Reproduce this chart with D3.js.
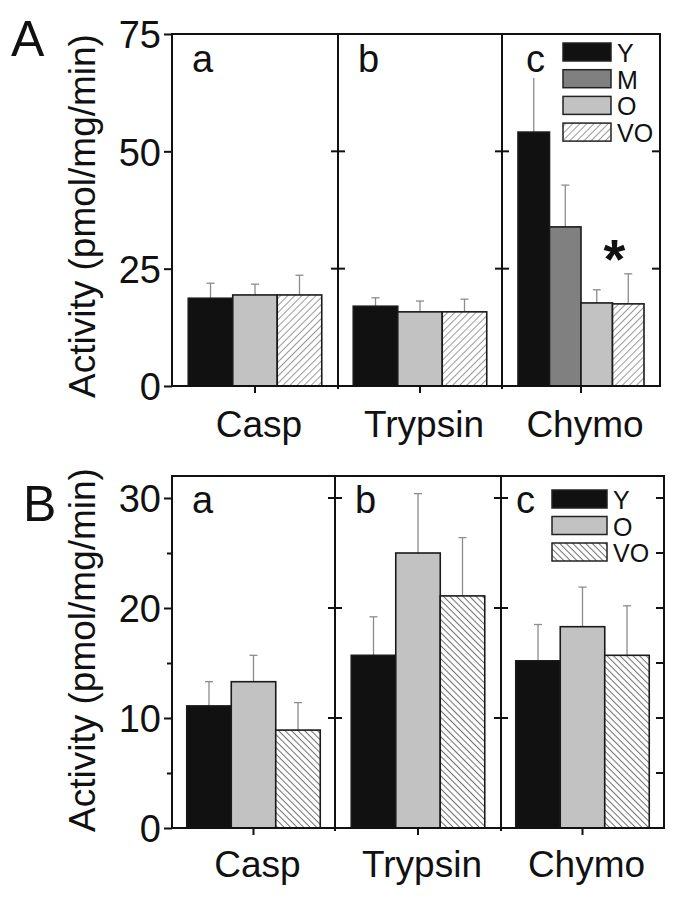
<!DOCTYPE html>
<html>
<head>
<meta charset="utf-8">
<script src="https://cdn.jsdelivr.net/npm/d3@7"></script>
<style>
  body { margin: 0; background: #fff; }
  svg text { font-family: "Liberation Sans", Arial, sans-serif; fill: #111; }
</style>
</head>
<body>
<svg id="chart" width="680" height="902"></svg>
<script>
// ---- data ----
var categories = ["Casp", "Trypsin", "Chymo"];
var panelLetters = ["a", "b", "c"];

// panel A
var groupsA = [["Y", "O", "VO"], ["Y", "O", "VO"], ["Y", "M", "O", "VO"]];
var meanA = [[18.7, 19.4, 19.4], [17.0, 15.8, 15.8], [54.1, 33.9, 17.7, 17.5]];
var sdA = [[3.2, 2.3, 4.2], [1.8, 2.3, 2.7], [13.0, 8.9, 2.8, 6.4]];
var legendA = ["Y", "M", "O", "VO"];
var ticksA = [0, 25, 50, 75];

// panel B
var groupsB = [["Y", "O", "VO"], ["Y", "O", "VO"], ["Y", "O", "VO"]];
var meanB = [[11.1, 13.3, 8.9], [15.7, 25.0, 21.1], [15.2, 18.3, 15.7]];
var sdB = [[2.2, 2.4, 2.5], [3.5, 5.4, 5.3], [3.3, 3.6, 4.5]];
var legendB = ["Y", "O", "VO"];
var ticksB = [0, 10, 20, 30];
var minorB = [5, 15, 25];

var svg = d3.select("#chart");
var defs = svg.append("defs");

function hatch(id, angle, spacing, color) {
    var p = defs.append("pattern")
        .attr("id", id)
        .attr("patternUnits", "userSpaceOnUse")
        .attr("width", spacing).attr("height", spacing)
        .attr("patternTransform", "rotate(" + angle + ")");
    p.append("rect").attr("width", spacing).attr("height", spacing).attr("fill", "#fff");
    p.append("line")
        .attr("x1", spacing / 2).attr("y1", 0)
        .attr("x2", spacing / 2).attr("y2", spacing)
        .attr("stroke", color).attr("stroke-width", 1);
}
hatch("hatchA", 45, 5, "#9a9a9a");
hatch("hatchB", -45, 4.6, "#6e6e6e");

function fills(hatchId) {
    return d3.scaleOrdinal()
        .domain(["Y", "M", "O", "VO"])
        .range(["#111", "#808080", "#c2c2c2", "url(#" + hatchId + ")"]);
}

/*==================================================================
                         Panel drawing
==================================================================*/
function drawPanel(opt) {
    var g = svg.append("g");
    var y = d3.scaleLinear().domain(opt.domain).range([opt.bottom, opt.top]);
    var edges = opt.edges;
    var color = fills(opt.hatch);
    var centers = d3.scaleOrdinal().domain(categories)
        .range(categories.map(function(c, i) { return (edges[i] + edges[i + 1]) / 2; }));

    // bars + error bars
    categories.forEach(function(cat, i) {
        var grp = opt.groups[i];
        var bw = grp.length === 4 ? 31.5 : 44.5;
        var cx = centers(cat);
        var x = d3.scaleBand().domain(grp)
            .range([cx - bw * grp.length / 2, cx + bw * grp.length / 2]);
        var rows = grp.map(function(k, j) {
            return { key: k, mean: opt.mean[i][j], sd: opt.sd[i][j] };
        });
        var cell = g.append("g");
        cell.selectAll("line.err").data(rows).enter().append("line")
            .attr("class", "err")
            .attr("x1", d => x(d.key) + x.bandwidth() / 2)
            .attr("x2", d => x(d.key) + x.bandwidth() / 2)
            .attr("y1", d => y(d.mean))
            .attr("y2", d => y(d.mean + d.sd))
            .attr("stroke", "#8c8c8c").attr("stroke-width", 1.3);
        cell.selectAll("line.cap").data(rows).enter().append("line")
            .attr("class", "cap")
            .attr("x1", d => x(d.key) + x.bandwidth() / 2 - 4)
            .attr("x2", d => x(d.key) + x.bandwidth() / 2 + 4)
            .attr("y1", d => y(d.mean + d.sd))
            .attr("y2", d => y(d.mean + d.sd))
            .attr("stroke", "#8c8c8c").attr("stroke-width", 1.3);
        cell.selectAll("rect").data(rows).enter().append("rect")
            .attr("x", d => x(d.key))
            .attr("y", d => y(d.mean))
            .attr("width", x.bandwidth())
            .attr("height", d => y(0) - y(d.mean))
            .attr("fill", d => color(d.key))
            .attr("stroke", "#1a1a1a").attr("stroke-width", 1.6);

        if (opt.star && cat === opt.star.cat) {
            var sx = x(opt.star.between[0]) + x.bandwidth();
            g.append("text")
                .attr("x", sx + 2).attr("y", y(opt.star.at))
                .attr("text-anchor", "middle")
                .attr("font-size", 56).attr("font-weight", "bold")
                .text("*");
        }
    });

    // frame
    g.append("rect")
        .attr("x", edges[0]).attr("y", opt.top)
        .attr("width", edges[3] - edges[0]).attr("height", opt.bottom - opt.top)
        .attr("fill", "none").attr("stroke", "#111").attr("stroke-width", 2);
    [edges[1], edges[2]].forEach(function(ex) {
        g.append("line")
            .attr("x1", ex).attr("x2", ex)
            .attr("y1", opt.top).attr("y2", opt.bottom + 3)
            .attr("stroke", "#111").attr("stroke-width", 2);
    });

    // left axis
    var ax = g.append("g")
        .attr("transform", "translate(" + edges[0] + ",0)")
        .call(d3.axisLeft(y).tickValues(opt.ticks).tickSize(8).tickPadding(3).tickFormat(d3.format("d")));
    ax.select(".domain").remove();
    ax.selectAll("line").attr("stroke", "#111").attr("stroke-width", 2);
    ax.selectAll("text").attr("font-size", 38).attr("fill", "#111").attr("dy", "0.36em");
    if (opt.minor) {
        g.append("g")
            .attr("transform", "translate(" + edges[0] + ",0)")
            .call(d3.axisLeft(y).tickValues(opt.minor).tickSize(5).tickFormat(""))
            .call(s => s.select(".domain").remove())
            .selectAll("line").attr("stroke", "#111").attr("stroke-width", 2);
    }

    // inner ticks on dividers and right edge
    var inner = opt.ticks.filter(t => t > opt.domain[0] && t < opt.domain[1] && t !== 75);
    [edges[1], edges[2]].forEach(function(ex) {
        g.selectAll(null).data(inner).enter().append("line")
            .attr("x1", ex - 7).attr("x2", ex + 7)
            .attr("y1", d => y(d)).attr("y2", d => y(d))
            .attr("stroke", "#111").attr("stroke-width", 2);
    });
    g.selectAll(null).data(inner.concat(opt.minor || [])).enter().append("line")
        .attr("x1", edges[3] - 8).attr("x2", edges[3])
        .attr("y1", d => y(d)).attr("y2", d => y(d))
        .attr("stroke", "#111").attr("stroke-width", 2);

    // category ticks and labels
    categories.forEach(function(cat) {
        g.append("line")
            .attr("x1", centers(cat)).attr("x2", centers(cat))
            .attr("y1", opt.bottom).attr("y2", opt.bottom + 7)
            .attr("stroke", "#111").attr("stroke-width", 2);
        g.append("text")
            .attr("x", centers(cat) + 4).attr("y", opt.catY)
            .attr("text-anchor", "middle").attr("font-size", 37)
            .text(cat);
    });

    // panel letters, on a white patch so error bars pass behind them
    var lbl = g.append("g");
    panelLetters.forEach(function(l, i) {
        var patch = lbl.append("rect").attr("fill", "#fff");
        var t = lbl.append("text")
            .attr("x", opt.letterX[i]).attr("y", opt.letterY)
            .attr("font-size", 38)
            .text(l);
        var b = t.node().getBBox();
        patch.attr("x", b.x).attr("y", b.y + 8)
            .attr("width", b.width).attr("height", b.height - 10);
    });

    // legend
    var lg = g.append("g");
    opt.legend.forEach(function(k, i) {
        var ly = opt.legendPos.y + i * opt.legendPos.step;
        lg.append("rect")
            .attr("x", opt.legendPos.x).attr("y", ly)
            .attr("width", opt.legendPos.w).attr("height", 18)
            .attr("fill", color(k))
            .attr("stroke", "#222").attr("stroke-width", 1.5);
        lg.append("text")
            .attr("x", opt.legendPos.x + opt.legendPos.w + 6).attr("y", ly + 19)
            .attr("font-size", 25)
            .text(k);
    });

    // y title and panel label
    g.append("text")
        .attr("transform", "translate(95," + ((opt.top + opt.bottom) / 2 + opt.titleShift) + ") rotate(-90)")
        .attr("text-anchor", "middle").attr("font-size", 37)
        .text("Activity (pmol/mg/min)");
    g.append("text")
        .attr("x", opt.bigLetter[0]).attr("y", opt.bigLetter[1])
        .attr("font-size", 50)
        .text(opt.name);
}

drawPanel({
    name: "A", bigLetter: [11, 56],
    domain: [0, 75], top: 34, bottom: 386,
    edges: [172, 338, 502, 660],
    groups: groupsA, mean: meanA, sd: sdA,
    ticks: ticksA, minor: null,
    hatch: "hatchA",
    catY: 437, letterX: [192, 358, 526], letterY: 72,
    legend: legendA, legendPos: { x: 563, y: 43, w: 48, step: 26.7 },
    star: { cat: "Chymo", between: ["O", "VO"], at: 23 },
    titleShift: 6
});

drawPanel({
    name: "B", bigLetter: [23, 521],
    domain: [0, 32], top: 476, bottom: 828,
    edges: [172, 335, 501, 664],
    groups: groupsB, mean: meanB, sd: sdB,
    ticks: ticksB, minor: minorB,
    hatch: "hatchB",
    catY: 877, letterX: [192, 355, 516], letterY: 513,
    legend: legendB, legendPos: { x: 552, y: 490, w: 55, step: 26.5 },
    star: null,
    titleShift: -2
});
</script>
</body>
</html>
